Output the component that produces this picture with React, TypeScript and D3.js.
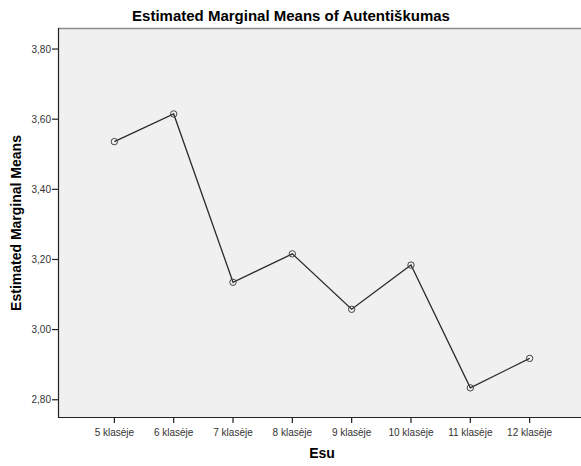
import React from "react";
import * as d3 from "d3";

const categories = ["5 klasėje", "6 klasėje", "7 klasėje", "8 klasėje", "9 klasėje", "10 klasėje", "11 klasėje", "12 klasėje"];
const means = [3.536, 3.615, 3.135, 3.216, 3.058, 3.184, 2.834, 2.918];
const yTicks = [2.8, 3.0, 3.2, 3.4, 3.6, 3.8];

const W = 581;
const H = 466;
const left = 58;
const right = 586;
const top = 28;
const bottom = 418;

export default function App() {
  const x = d3.scalePoint<string>().domain(categories).range([left, right]).padding(0.95);
  const y = d3.scaleLinear().domain([2.748, 3.86]).range([bottom, top]);
  const line = d3
    .line<number>()
    .x((_, i) => x(categories[i]) as number)
    .y((d) => y(d));
  const fmt = (v: number) => v.toFixed(2).replace(".", ",");
  const font = "Arial, 'Liberation Sans', sans-serif";
  return (
    <div style={{ position: "absolute", left: 0, top: 0 }}>
      <svg width={W} height={H} style={{ display: "block", fontFamily: font }}>
        <rect x={0} y={0} width={W} height={H} fill="#ffffff" />
        <text x={291} y={21} textAnchor="middle" fontSize={15} fontWeight="bold" fill="#000">
          Estimated Marginal Means of Autentiškumas
        </text>
        <rect x={left} y={top} width={right - left} height={bottom - top} fill="#f0f0f0" />
        <line x1={left} x2={right} y1={top + 0.5} y2={top + 0.5} stroke="#8a8a8a" strokeWidth={1.5} />
        <line x1={left + 0.5} x2={left + 0.5} y1={top} y2={bottom} stroke="#222" strokeWidth={1.2} />
        <line x1={left} x2={right} y1={bottom - 0.5} y2={bottom - 0.5} stroke="#222" strokeWidth={1.2} />
        {yTicks.map((t) => (
          <g key={t}>
            <line x1={left - 6} x2={left} y1={y(t)} y2={y(t)} stroke="#222" strokeWidth={1.2} />
            <text x={left - 7} y={y(t)} dy="0.35em" textAnchor="end" fontSize={10} fill="#333">
              {fmt(t)}
            </text>
          </g>
        ))}
        {categories.map((c) => (
          <g key={c}>
            <line x1={x(c)} x2={x(c)} y1={bottom} y2={bottom + 5} stroke="#222" strokeWidth={1.2} />
            <text x={x(c)} y={bottom + 14} dy="0.35em" textAnchor="middle" fontSize={10} fill="#333">
              {c}
            </text>
          </g>
        ))}
        <path d={line(means) || ""} fill="none" stroke="#2b2b2b" strokeWidth={1.3} />
        {means.map((m, i) => (
          <circle key={i} cx={x(categories[i])} cy={y(m)} r={3.2} fill="none" stroke="#444" strokeWidth={1} />
        ))}
        <text
          transform={`translate(21, ${(top + bottom) / 2}) rotate(-90)`}
          textAnchor="middle"
          fontSize={14}
          fontWeight="bold"
          fill="#000"
        >
          Estimated Marginal Means
        </text>
        <text x={322} y={458} textAnchor="middle" fontSize={14} fontWeight="bold" fill="#000">
          Esu
        </text>
      </svg>
    </div>
  );
}
